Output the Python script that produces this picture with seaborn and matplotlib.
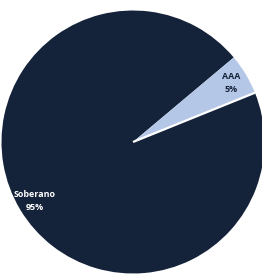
import matplotlib
matplotlib.use("Agg")
import numpy as np
import matplotlib.pyplot as plt
import seaborn as sns

categories = ["Soberano", "AAA"]
values = [95, 5]
pct_labels = ["95%", "5%"]
colors = ["#15233A", "#B4C7E7"]
text_colors = ["white", "#15233A"]

sns.set_style("white")
plt.rcParams['font.family'] = ['Open Sans', 'DejaVu Sans']

fig = plt.figure(figsize=(2.62, 2.74), dpi=100)
W, H = 262, 274
cx, cy, r = 133, 142, 131.5
ax = fig.add_axes([(cx - r) / W, (H - cy - r) / H, 2 * r / W, 2 * r / H])

labels = [f"{c}\n{p}" for c, p in zip(categories, pct_labels)]
wedges, texts = ax.pie(values, labels=labels, colors=colors, startangle=40,
                       counterclock=True, radius=1, labeldistance=0.87,
                       wedgeprops=dict(linewidth=0),
                       textprops=dict(fontsize=6.4, fontweight="bold",
                                      linespacing=1.6))
for t, tc in zip(texts, text_colors):
    t.set_ha("center")
    t.set_va("center")
    t.set_color(tc)
    t.set_multialignment("center")

# white separator along the lower edge of the small slice
th = np.deg2rad(wedges[1].theta1)
ax.plot([0, np.cos(th)], [0, np.sin(th)], color="white", lw=1.6,
        solid_capstyle="butt")

ax.set_xlim(-1, 1)
ax.set_ylim(-1, 1)
ax.set_aspect("equal")
ax.axis("off")

fig.savefig("out.png", dpi=100)
